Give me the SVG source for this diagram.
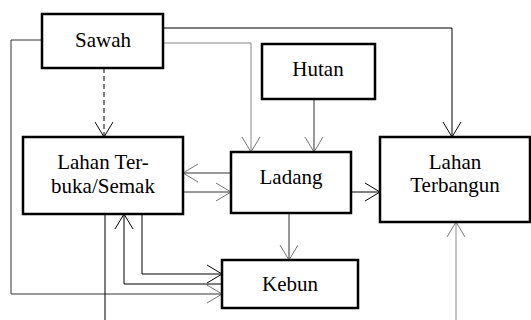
<svg xmlns="http://www.w3.org/2000/svg" width="531" height="320" viewBox="0 0 531 320">
<style>
.box{fill:#fff;stroke:#000;stroke-width:2.5}
.t{font-family:"Liberation Serif","Times New Roman",serif;font-size:21px;fill:#000;text-anchor:middle}
.c{fill:none;stroke:#333;stroke-width:1}
.g{stroke:#888}
.k{stroke:#000}
</style>
<defs>
<marker id="a" markerUnits="userSpaceOnUse" markerWidth="20" markerHeight="22" refX="16" refY="10" orient="auto" overflow="visible">
<path d="M1,1 L16,10 L1,19" fill="none" stroke="#000" stroke-width="1"/>
</marker>
<marker id="ag" markerUnits="userSpaceOnUse" markerWidth="20" markerHeight="22" refX="16" refY="10" orient="auto" overflow="visible">
<path d="M1,1 L16,10 L1,19" fill="none" stroke="#777" stroke-width="1"/>
</marker>
</defs>
<g id="connectors">
<path class="c k" d="M163,28 H452 V137" stroke-width="1.3" marker-end="url(#a)"/>
<path class="c g" d="M163,43 H251 V152" marker-end="url(#ag)"/>
<path class="c" d="M42,40 H11 V294 H222" marker-end="url(#ag)"/>
<path class="c k" d="M104,68 V137" stroke-dasharray="5,3" marker-end="url(#a)"/>
<path class="c" d="M314,99 V152" marker-end="url(#ag)"/>
<path class="c" d="M231,173 H183" marker-end="url(#ag)"/>
<path class="c" d="M183,192 H231" marker-end="url(#ag)"/>
<path class="c k" d="M351,192 H380" stroke-width="1.3" marker-end="url(#a)"/>
<path class="c" d="M289,213 V260" marker-end="url(#ag)"/>
<path class="c k" d="M142,214 V274 H222" marker-end="url(#a)"/>
<path class="c k" d="M222,284 H124 V214" marker-end="url(#a)"/>
<path class="c k" d="M105,214 V320"/>
<path class="c g" d="M456,320 V222" stroke-width="1.3" marker-end="url(#ag)"/>
</g>
<g id="sawah"><rect class="box" x="42" y="14" width="121" height="54"/><text class="t" x="103" y="47">Sawah</text></g>
<g id="hutan"><rect class="box" x="262" y="44" width="113" height="55"/><text class="t" x="318" y="76">Hutan</text></g>
<g id="lahan-terbuka"><rect class="box" x="23" y="137" width="160" height="77"/><text class="t" x="103" y="169">Lahan Ter-</text><text class="t" x="103" y="193">buka/Semak</text></g>
<g id="ladang"><rect class="box" x="231" y="152" width="120" height="61"/><text class="t" x="291" y="184">Ladang</text></g>
<g id="lahan-terbangun"><rect class="box" x="380" y="137" width="150" height="85"/><text class="t" x="455" y="169">Lahan</text><text class="t" x="455" y="192">Terbangun</text></g>
<g id="kebun"><rect class="box" x="222" y="260" width="136" height="48"/><text class="t" x="290" y="291">Kebun</text></g>
</svg>
